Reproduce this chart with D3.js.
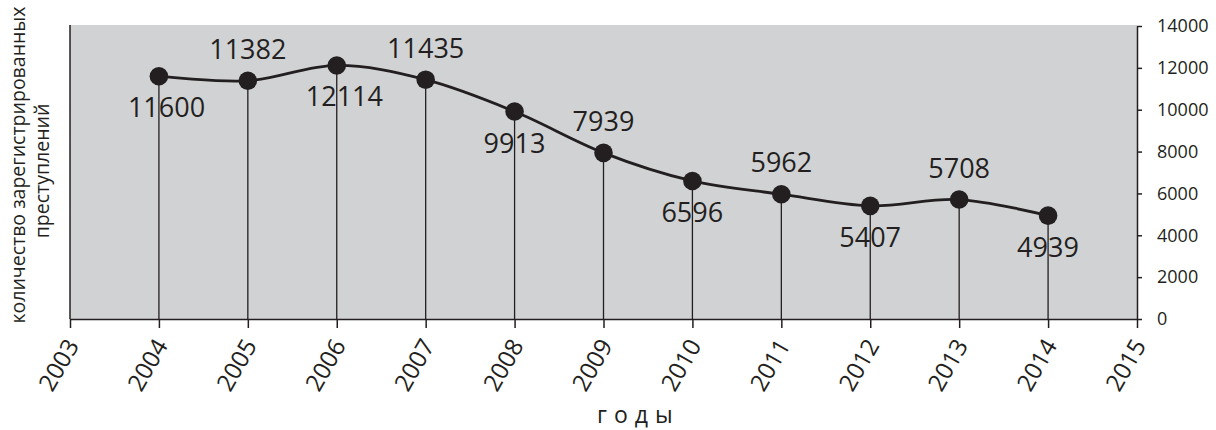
<!DOCTYPE html>
<html><head><meta charset="utf-8">
<script src="https://cdn.jsdelivr.net/npm/d3@7"></script>
<style>body{margin:0;background:#fff}svg text{font-family:"Open Sans",sans-serif;fill:#231f20}</style>
</head><body><svg id="c" width="1216" height="430"></svg>
<script>
const years = [2004,2005,2006,2007,2008,2009,2010,2011,2012,2013,2014];
const crimes = [11600,11382,12114,11435,9913,7939,6596,5962,5407,5708,4939];
const xTicks = [2003,2004,2005,2006,2007,2008,2009,2010,2011,2012,2013,2014,2015];
const yTicks = [0,2000,4000,6000,8000,10000,12000,14000];
const yTitle = ["количество зарегистрированных","преступлений"];
const xTitle = "годы";

const svg = d3.select("#c");
const L=70,R=1137,T=25,B=319;
const x = d3.scaleLinear().domain([2003,2015]).range([L,R]);
const y = d3.scaleLinear().domain([0,14000]).range([B,T+1]);
const ink="#231f20";

svg.append("rect").attr("x",L).attr("y",T).attr("width",R-L).attr("height",B-T).attr("fill","#d1d2d4");
svg.append("line").attr("x1",L).attr("x2",L).attr("y1",T).attr("y2",B).attr("stroke",ink).attr("stroke-width",1.5);

// drop lines
svg.append("g").selectAll("line").data(years).join("line")
  .attr("x1",d=>x(d)).attr("x2",d=>x(d))
  .attr("y1",(d,i)=>y(crimes[i])).attr("y2",B)
  .attr("stroke",ink).attr("stroke-width",1.3);

// bottom axis
const gx = svg.append("g").attr("transform",`translate(0,${B})`)
  .call(d3.axisBottom(x).tickValues(xTicks).tickFormat(d3.format("d")).tickSize(9).tickSizeOuter(0));
gx.select(".domain").attr("stroke",ink).attr("stroke-width",1.5);
gx.selectAll(".tick line").attr("stroke",ink).attr("stroke-width",1.5);
gx.selectAll(".tick text").attr("font-size",24).attr("text-anchor","end")
  .attr("transform","translate(5,17) rotate(-60)").attr("dy","0.35em").attr("y",0).attr("x",-6);

// right axis
const gy = svg.append("g").attr("transform",`translate(${R},0)`)
  .call(d3.axisRight(y).tickValues(yTicks).tickFormat(d3.format("d")).tickSize(5).tickSizeOuter(0).tickPadding(15));
gy.select(".domain").attr("stroke",ink).attr("stroke-width",1.5);
gy.selectAll(".tick line").attr("stroke",ink).attr("stroke-width",1.5);
gy.selectAll(".tick text").attr("font-size",18);

// curve
const line = d3.line().x((d,i)=>x(years[i])).y(d=>y(d)).curve(d3.curveCatmullRom.alpha(0));
svg.append("path").datum(crimes).attr("d",line).attr("fill","none").attr("stroke",ink).attr("stroke-width",2.8);

svg.append("g").selectAll("circle").data(crimes).join("circle")
  .attr("cx",(d,i)=>x(years[i])).attr("cy",d=>y(d)).attr("r",9.3).attr("fill",ink);

// labels: alternate below (left-aligned) / above (centred)
svg.append("g").selectAll("text").data(crimes).join("text")
  .attr("x",(d,i)=>x(years[i]) + (i%2===0 ? -31 : 0))
  .attr("y",(d,i)=>y(d)+(i%2===0?41:-22))
  .attr("text-anchor",(d,i)=>i%2===0?"start":"middle").attr("font-size",27).text(d=>d);

// titles
const yt = svg.append("text").attr("transform","translate(25,165) rotate(-90)").attr("text-anchor","middle").attr("font-size",19.5);
yt.selectAll("tspan").data(yTitle).join("tspan").attr("x",(d,i)=>i?-6:0).attr("dy",(d,i)=>i?24:0).text(d=>d);
svg.append("text").attr("x",597).attr("y",423).attr("text-anchor","start").attr("font-size",23).attr("font-weight",500)
  .attr("letter-spacing","7px").text(xTitle);
</script></body></html>
